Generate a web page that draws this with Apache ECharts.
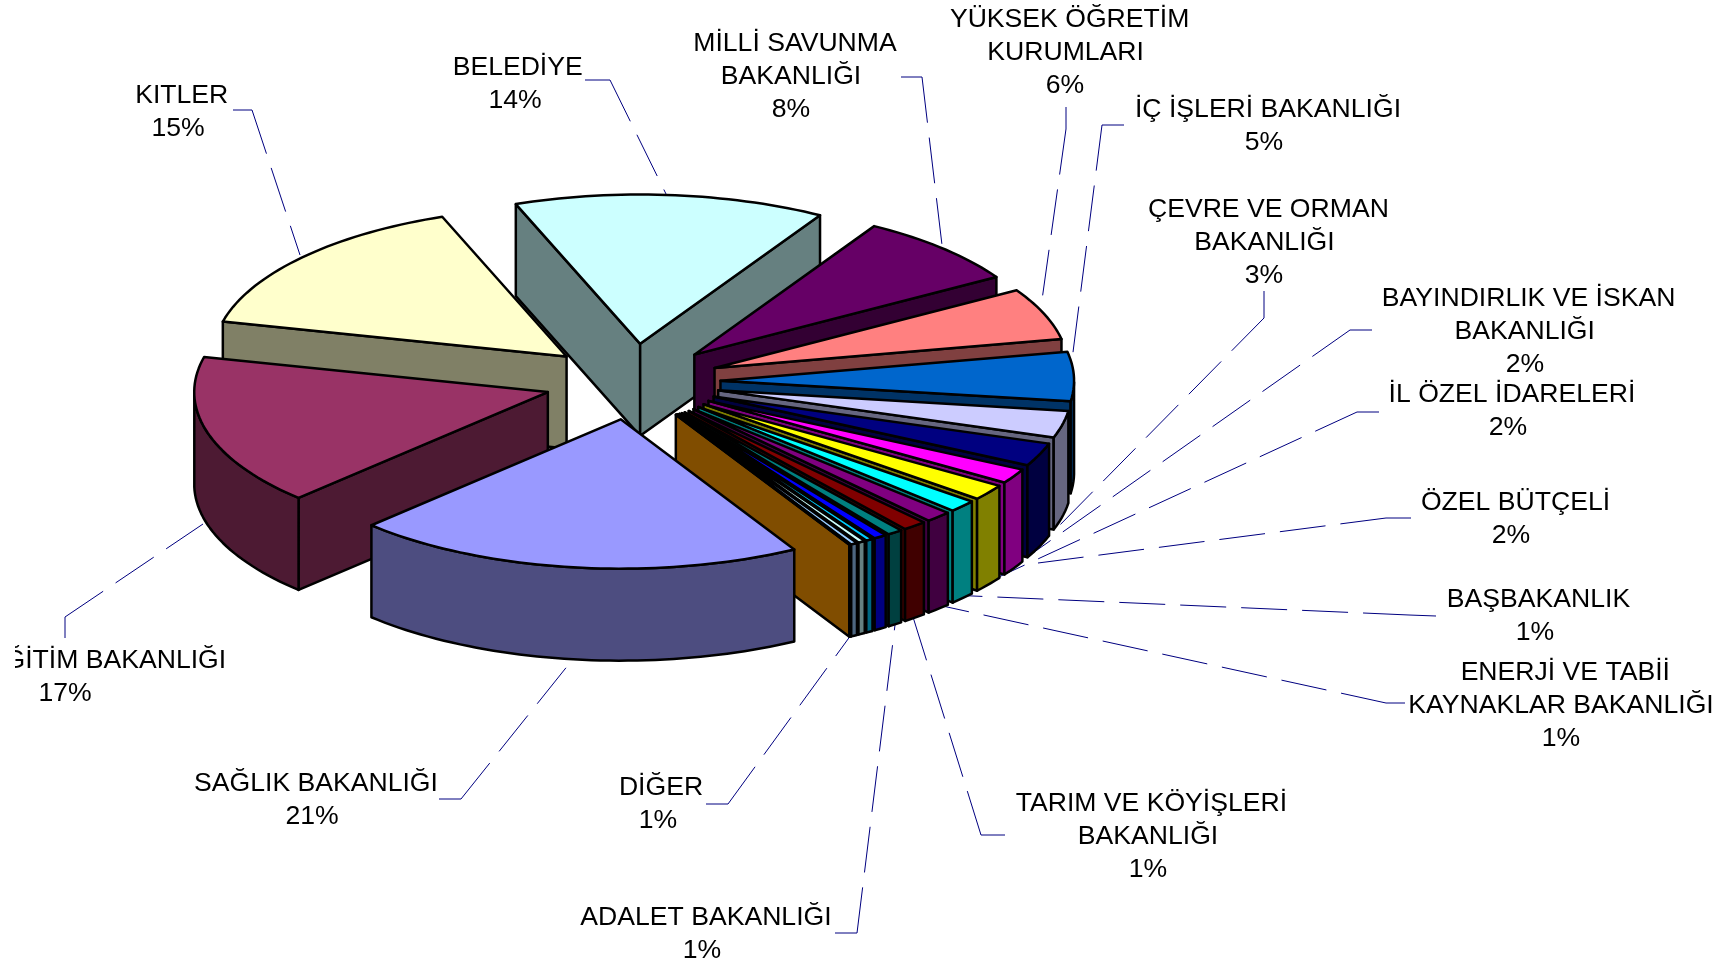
<!DOCTYPE html>
<html>
<head>
<meta charset="utf-8">
<script src="https://cdn.jsdelivr.net/npm/echarts@6/dist/echarts.min.js"></script>
<style>
  html, body { margin: 0; padding: 0; background: #fff; }
  #chart { width: 1722px; height: 965px; }
</style>
</head>
<body>
<div id="chart"></div>
<script>
// slice values in percent, clockwise from Sağlık
const sliceNames = [
  "SAĞLIK BAKANLIĞI", "EĞİTİM BAKANLIĞI", "KITLER", "BELEDİYE",
  "MİLLİ SAVUNMA BAKANLIĞI", "YÜKSEK ÖĞRETİM KURUMLARI", "İÇ İŞLERİ BAKANLIĞI",
  "ÇEVRE VE ORMAN BAKANLIĞI", "BAYINDIRLIK VE İSKAN BAKANLIĞI", "İL ÖZEL İDARELERİ",
  "ÖZEL BÜTÇELİ", "BAŞBAKANLIK", "ENERJİ VE TABİİ KAYNAKLAR BAKANLIĞI",
  "TARIM VE KÖYİŞLERİ BAKANLIĞI", "ADALET BAKANLIĞI", "", "", "", "", "DİĞER"
];
const sliceValues = [
  20.6, 16.3, 15.5, 14.2, 7.8, 5.6, 5.3, 2.9, 2.5, 1.6,
  1.7, 1.3, 1.2, 1.1, 0.7, 0.6, 0.33, 0.33, 0.3, 0.05
];
const sliceColors = [
  "#9999FF", "#993366", "#FFFFCC", "#CCFFFF", "#660066", "#FF8080", "#0066CC", "#CCCCFF",
  "#000080", "#FF00FF", "#FFFF00", "#00FFFF", "#800080", "#800000", "#008080", "#0000FF",
  "#00CCFF", "#CCFFFF", "#99CCFF", "#FF9900"
];

// labels
const labelNames = [
  ["SAĞLIK BAKANLIĞI"], ["EĞİTİM BAKANLIĞI"], ["KITLER"], ["BELEDİYE"],
  ["MİLLİ SAVUNMA", "BAKANLIĞI"], ["YÜKSEK ÖĞRETİM", "KURUMLARI"], ["İÇ İŞLERİ BAKANLIĞI"],
  ["ÇEVRE VE ORMAN", "BAKANLIĞI"], ["BAYINDIRLIK VE İSKAN", "BAKANLIĞI"], ["İL ÖZEL İDARELERİ"],
  ["ÖZEL BÜTÇELİ"], ["BAŞBAKANLIK"], ["ENERJİ VE TABİİ", "KAYNAKLAR BAKANLIĞI"],
  ["TARIM VE KÖYİŞLERİ", "BAKANLIĞI"], ["ADALET BAKANLIĞI"], ["DİĞER"]
];
const labelPercents = ["21%", "17%", "15%", "14%", "8%", "6%", "5%", "3%", "2%", "2%", "2%", "1%", "1%", "1%", "1%", "1%"];

// layout of the labels, page pixels, one centre per text line
const labelX = [
  [316], [106.5], [181.7], [517.7], [795, 791], [1069.6, 1065.6], [1268],
  [1268.4, 1264.4], [1528.6, 1524.7], [1512], [1515.5], [1538.5], [1565.3, 1561],
  [1151.4, 1148], [706], [661]
];
const percentX = [312, 65, 178, 515, 791, 1065, 1264, 1264, 1525, 1508, 1511, 1535, 1561, 1148, 702, 658];
const labelY = [784, 661, 96, 68, 44, 20, 110, 210, 299, 395, 503, 600, 673, 804, 918, 788];
const lineGap = 33;

// leader lines: label end, elbow, point at the pie
const leaders = [
  [[439, 799], [461, 799], [569, 664]],
  [[65, 638], [65, 617], [203, 524]],
  [[233, 110], [252, 110], [300, 255]],
  [[585, 80], [610, 80], [668, 198]],
  [[901, 77], [922, 77], [942, 245]],
  [[1066, 107], [1066, 129], [1042, 300]],
  [[1124, 125], [1102, 125], [1072, 360]],
  [[1264, 291], [1264, 318], [1055, 530]],
  [[1372, 330], [1350, 330], [1030, 555]],
  [[1379, 412], [1357, 412], [977, 587]],
  [[1411, 518], [1386, 518], [1038, 563]],
  [[1436, 616], [1409, 615], [950, 595]],
  [[1405, 703], [1386, 703], [938, 605]],
  [[1005, 835], [981, 835], [913, 617]],
  [[835, 933], [857, 933], [895, 625]],
  [[706, 804], [728, 804], [851, 635]]
];

// pie geometry
const cx = 632.5, cy = 381.7;
const rx = 353.6, ry = 149.3;
const depth = 92;
const explodeX = 88, explodeY = 38;
const startAngle = 60.6;

const total = sliceValues.reduce((a, b) => a + b, 0);
let acc = startAngle;
const slices = sliceValues.map((v, i) => {
  const a0 = acc;
  acc += v / total * 360;
  return { index: i, a0: a0, a1: acc, mid: (a0 + acc) / 2 };
});
const rad = (d) => d * Math.PI / 180;
// back slices first
const drawOrder = slices.slice().sort((a, b) => Math.sin(rad(a.mid)) - Math.sin(rad(b.mid)));

function shade(hex) {
  const n = parseInt(hex.slice(1), 16);
  const r = (n >> 16) & 255, g = (n >> 8) & 255, b = n & 255;
  return "rgb(" + Math.round(r / 2) + "," + Math.round(g / 2) + "," + Math.round(b / 2) + ")";
}

function renderSlice(params, api) {
  const s = drawOrder[params.dataIndex];
  const color = sliceColors[s.index];
  const dark = shade(color);
  const ax = cx + explodeX * Math.cos(rad(s.mid));
  const ay = cy + explodeY * Math.sin(rad(s.mid));
  const rim = (a) => [ax + rx * Math.cos(rad(a)), ay + ry * Math.sin(rad(a))];
  const down = (p) => [p[0], p[1] + depth];
  const apex = [ax, ay];
  const face = (pts, fill) => ({
    type: "polygon",
    shape: { points: pts.map((p) => api.coord(p)) },
    style: { fill: fill, stroke: "#000", lineWidth: 2.5, lineJoin: "round" }
  });

  const children = [];
  // radial walls, only the ones turned to the viewer
  if (Math.sin(rad(s.a0 - 90)) > 0) {
    const p = rim(s.a0);
    children.push(face([apex, p, down(p), down(apex)], dark));
  }
  if (Math.sin(rad(s.a1 + 90)) > 0) {
    const p = rim(s.a1);
    children.push(face([apex, p, down(p), down(apex)], dark));
  }

  // outer wall, front part only
  const arcPts = [];
  const steps = Math.max(2, Math.ceil((s.a1 - s.a0) / 1.5));
  for (let k = 0; k <= steps; k++) {
    const a = s.a0 + (s.a1 - s.a0) * k / steps;
    if (Math.sin(rad(a)) >= 0) arcPts.push(rim(a));
  }
  if (arcPts.length > 1) {
    children.push(face(arcPts.concat(arcPts.map(down).reverse()), dark));
  }

  const topPts = [apex];
  for (let k = 0; k <= steps; k++) {
    topPts.push(rim(s.a0 + (s.a1 - s.a0) * k / steps));
  }
  children.push(face(topPts, color));
  return { type: "group", children: children };
}

function renderLeader(params, api) {
  const path = leaders[params.dataIndex];
  const children = [];
  for (let k = 0; k < path.length - 1; k++) {
    const a = api.coord(path[k]), b = api.coord(path[k + 1]);
    children.push({
      type: "line",
      shape: { x1: a[0], y1: a[1], x2: b[0], y2: b[1] },
      style: { stroke: "#000080", lineWidth: 1, lineDash: [46, 15] }
    });
  }
  return { type: "group", children: children };
}

function renderLabel(params, api) {
  const i = params.dataIndex;
  const textEl = (str, x, y) => {
    const p = api.coord([x, y]);
    return {
      type: "text",
      x: p[0],
      y: p[1],
      style: {
        text: str,
        fill: "#000",
        font: "26.6px 'Liberation Sans', Arial, sans-serif",
        textAlign: "center",
        textVerticalAlign: "middle"
      }
    };
  };
  const children = labelNames[i].map((line, k) => textEl(line, labelX[i][k], labelY[i] + k * lineGap));
  children.push(textEl(labelPercents[i], percentX[i], labelY[i] + labelNames[i].length * lineGap));
  return { type: "group", children: children };
}

const chart = echarts.init(document.getElementById("chart"));
chart.setOption({
  animation: false,
  backgroundColor: "#fff",
  grid: { left: 0, right: 0, top: 0, bottom: 0 },
  xAxis: { type: "value", min: 0, max: 1722, show: false },
  yAxis: { type: "value", min: 0, max: 965, inverse: true, show: false },
  tooltip: { show: false },
  series: [
    {
      type: "custom",
      name: "leaders",
      z: 1,
      silent: true,
      renderItem: renderLeader,
      data: leaders.map((l, i) => [i])
    },
    {
      type: "custom",
      name: "pie",
      z: 2,
      silent: true,
      renderItem: renderSlice,
      data: drawOrder.map((s) => [s.index, sliceValues[s.index], sliceNames[s.index]])
    },
    {
      type: "custom",
      name: "labels",
      z: 3,
      silent: true,
      renderItem: renderLabel,
      data: labelNames.map((l, i) => [i])
    }
  ],
  // the Eğitim label is cut off at the left in the original
  graphic: [{
    type: "rect",
    z: 100,
    shape: { x: 0, y: 642, width: 15, height: 40 },
    style: { fill: "#fff" }
  }]
});

window.addEventListener("resize", () => {
  chart.resize();
});
</script>
</body>
</html>
